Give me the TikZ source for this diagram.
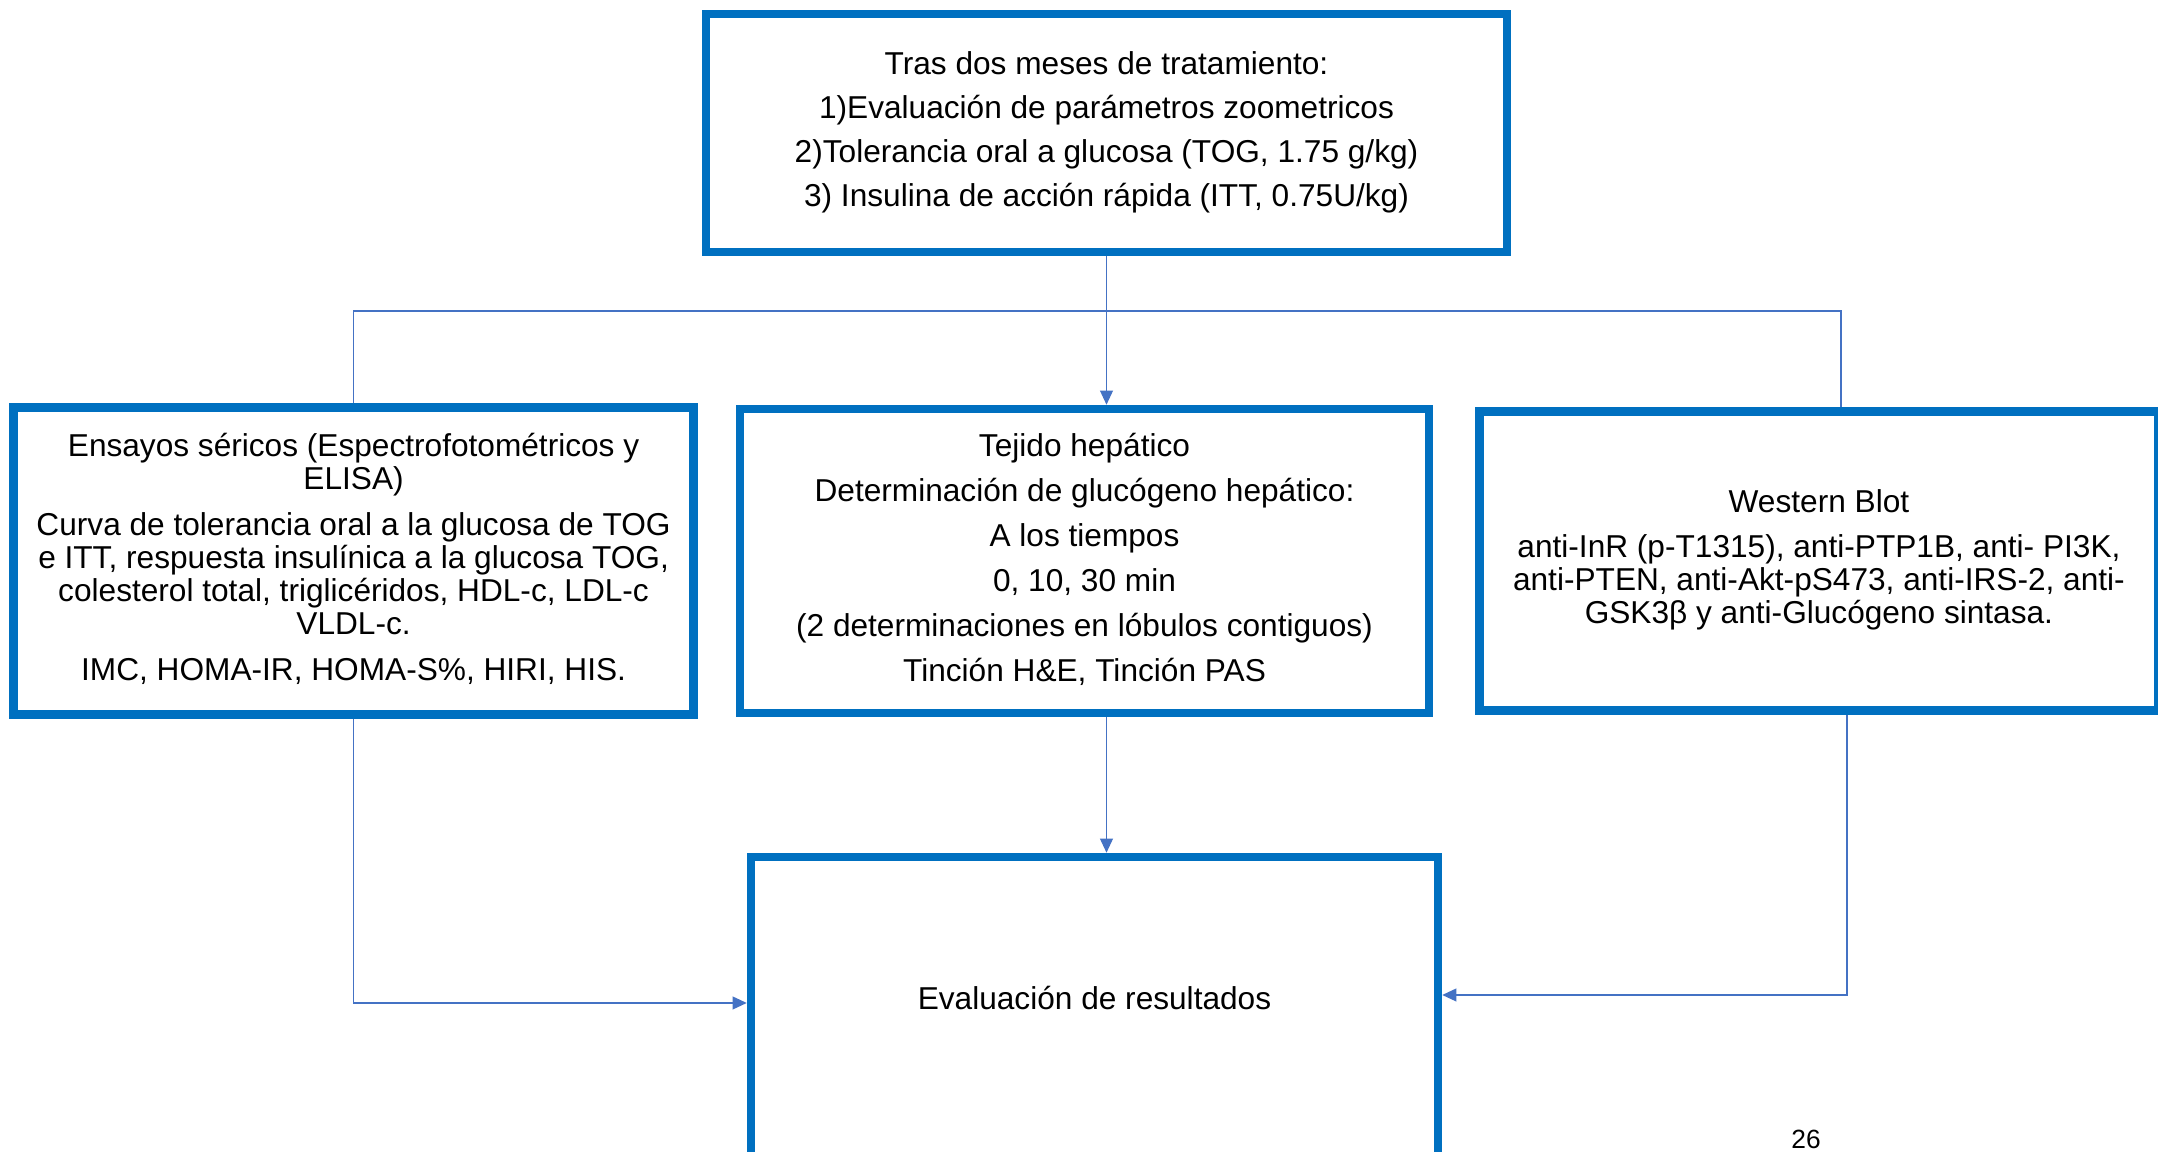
\documentclass[tikz,border=0pt]{standalone}
\usepackage{fontspec}
\setmainfont{Liberation Sans}
\usepackage{tikz}
\usetikzlibrary{arrows.meta,positioning,calc}
\usepackage{xcolor}
\definecolor{CajaAzul}{HTML}{0070C0}
\definecolor{LineaAzul}{HTML}{4472C4}

\begin{document}
\begin{tikzpicture}[node distance=3.8mm and 3.8mm,every node/.style={font=\fontsize{9}{9.4}\selectfont,align=center},
    caja/.style={draw=CajaAzul,line width=2.4pt,fill=white,inner sep=0pt,text depth=0.08cm},
    conector/.style={draw=LineaAzul,line width=0.5pt},
    flecha/.style={conector,-{Triangle[length=4pt,width=3.6pt]}}]
    \fill[white] (0,0) rectangle (21.58,11.52);
    \useasboundingbox (0,0) rectangle (21.58,11.52);
    \node[caja,minimum width=8.01cm,minimum height=2.38cm] (trat) at (11.065,10.19) {Tras dos meses de tratamiento:\\[3.1pt]1)Evaluación de parámetros zoometricos\\[3.1pt]2)Tolerancia oral a glucosa (TOG, 1.75 g/kg)\\[3.1pt]3) Insulina de acción rápida (ITT, 0.75U/kg)};
    \node[caja,minimum width=6.89cm,minimum height=3.04cm] (tejido) at (10.845,5.91) {Tejido hepático\\[3.4pt]Determinación de glucógeno hepático:\\[3.4pt]A los tiempos\\[3.4pt]0, 10, 30 min\\[3.4pt](2 determinaciones en lóbulos contiguos)\\[3.4pt]Tinción H\&E, Tinción PAS};
    \node[caja,left=of tejido,minimum width=6.80cm,minimum height=3.07cm] (sericos) {Ensayos séricos (Espectrofotométricos y\\ELISA)\\[3.6pt]Curva de tolerancia oral a la glucosa de TOG\\e ITT, respuesta insulínica a la glucosa TOG,\\colesterol total, triglicéridos, HDL-c, LDL-c\\VLDL-c.\\[3.6pt]IMC, HOMA-IR, HOMA-S\%, HIRI, HIS.};
    \node[caja,right=4.2mm of tejido,minimum width=6.79cm,minimum height=2.99cm] (western) {Western Blot\\[3.4pt]anti-InR (p-T1315), anti-PTP1B, anti- PI3K,\\anti-PTEN, anti-Akt-pS473, anti-IRS-2, anti-\\GSK3β y anti-Glucógeno sintasa.};
    \node[caja,minimum width=6.87cm,minimum height=3.04cm,text depth=0.22cm] (eval) at (10.945,1.43) {Evaluación de resultados};
    \node[font=\fontsize{7.5}{8}\selectfont,anchor=base] (pagina) at (18.06,0.03) {26};
    \coordinate (rama) at ($(trat.south)+(0,-0.55)$);
    \draw[flecha] (trat.south) -- (trat.south |- tejido.north);
    \draw[conector] (sericos.north) |- (rama) -| ([xshift=2.2mm]western.north);
    \draw[flecha] (sericos.south) |- ([yshift=0.6mm]eval.west);
    \draw[flecha] (trat.south |- tejido.south) -- (trat.south |- eval.north);
    \draw[flecha] ([xshift=2.8mm]western.south) |- ([yshift=1.4mm]eval.east);
\end{tikzpicture}
\end{document}
